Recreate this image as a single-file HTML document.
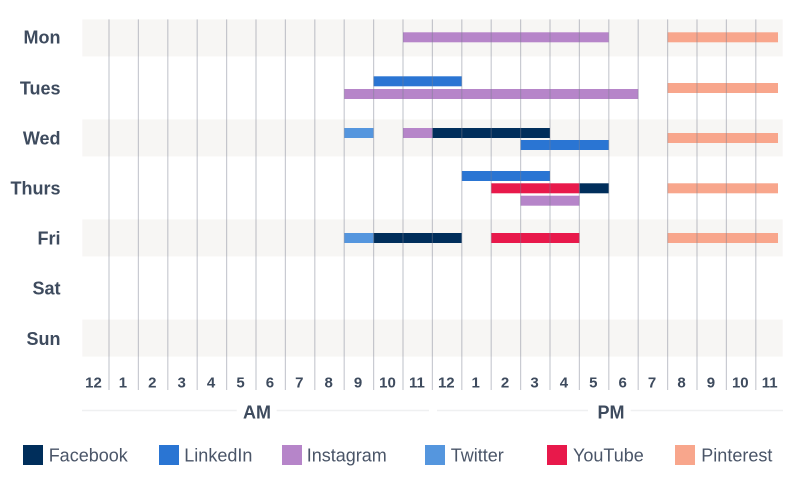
<!DOCTYPE html>
<html><head><meta charset="utf-8"><style>
html,body{margin:0;padding:0;background:#fff;}
svg{display:block;}
text{font-family:"Liberation Sans",sans-serif;}
</style></head><body>
<svg width="800" height="481" viewBox="0 0 800 481" xmlns="http://www.w3.org/2000/svg">
<!-- stripes -->
<g fill="#f7f6f4">
<rect x="82.3" y="19.4" width="700.4" height="37"/>
<rect x="82.3" y="119.4" width="700.4" height="37"/>
<rect x="82.3" y="219.4" width="700.4" height="37"/>
<rect x="82.3" y="319.6" width="700.4" height="37"/>
</g>
<!-- day labels -->
<g font-size="18" font-weight="bold" fill="#3e4b5e" text-anchor="end">
<text x="60.5" y="43.6">Mon</text>
<text x="60.5" y="94.3">Tues</text>
<text x="60.5" y="144.4">Wed</text>
<text x="60.5" y="194.6">Thurs</text>
<text x="60.5" y="244.4">Fri</text>
<text x="60.5" y="294.6">Sat</text>
<text x="60.5" y="344.8">Sun</text>
</g>
<!-- bars -->
<g>
<!-- Mon -->
<rect x="403" y="32.3" width="205.8" height="10" fill="#b685c9"/>
<rect x="667.6" y="32.3" width="110.4" height="10" fill="#f8a68c"/>
<!-- Tue -->
<rect x="373.6" y="76.3" width="88.2" height="10" fill="#2a75d3"/>
<rect x="344.2" y="89" width="294" height="10" fill="#b685c9"/>
<rect x="667.6" y="83" width="110.4" height="10" fill="#f8a68c"/>
<!-- Wed -->
<rect x="344.2" y="128" width="29.4" height="10" fill="#5596de"/>
<rect x="403" y="128" width="29.4" height="10" fill="#b685c9"/>
<rect x="432.4" y="128" width="117.6" height="10" fill="#002e5b"/>
<rect x="520.6" y="140" width="88.2" height="10" fill="#2a75d3"/>
<rect x="667.6" y="133" width="110.4" height="10" fill="#f8a68c"/>
<!-- Thu -->
<rect x="461.8" y="171" width="88.2" height="10" fill="#2a75d3"/>
<rect x="491.2" y="183.3" width="88.2" height="10" fill="#e8194b"/>
<rect x="579.4" y="183.3" width="29.4" height="10" fill="#002e5b"/>
<rect x="520.6" y="195.7" width="58.8" height="10" fill="#b685c9"/>
<rect x="667.6" y="183.3" width="110.4" height="10" fill="#f8a68c"/>
<!-- Fri -->
<rect x="344.2" y="233" width="29.4" height="10" fill="#5596de"/>
<rect x="373.6" y="233" width="88.2" height="10" fill="#002e5b"/>
<rect x="491.2" y="233" width="88.2" height="10" fill="#e8194b"/>
<rect x="667.6" y="233" width="110.4" height="10" fill="#f8a68c"/>
</g>
<!-- grid lines -->
<g stroke="rgb(120,126,142)" stroke-opacity="0.4" stroke-width="1.2">
<line x1="109.0" y1="19.4" x2="109.0" y2="390"/>
<line x1="138.4" y1="19.4" x2="138.4" y2="390"/>
<line x1="167.8" y1="19.4" x2="167.8" y2="390"/>
<line x1="197.2" y1="19.4" x2="197.2" y2="390"/>
<line x1="226.6" y1="19.4" x2="226.6" y2="390"/>
<line x1="256.0" y1="19.4" x2="256.0" y2="390"/>
<line x1="285.4" y1="19.4" x2="285.4" y2="390"/>
<line x1="314.8" y1="19.4" x2="314.8" y2="390"/>
<line x1="344.2" y1="19.4" x2="344.2" y2="390"/>
<line x1="373.6" y1="19.4" x2="373.6" y2="390"/>
<line x1="403.0" y1="19.4" x2="403.0" y2="390"/>
<line x1="432.4" y1="19.4" x2="432.4" y2="390"/>
<line x1="461.8" y1="19.4" x2="461.8" y2="390"/>
<line x1="491.2" y1="19.4" x2="491.2" y2="390"/>
<line x1="520.6" y1="19.4" x2="520.6" y2="390"/>
<line x1="550.0" y1="19.4" x2="550.0" y2="390"/>
<line x1="579.4" y1="19.4" x2="579.4" y2="390"/>
<line x1="608.8" y1="19.4" x2="608.8" y2="390"/>
<line x1="638.2" y1="19.4" x2="638.2" y2="390"/>
<line x1="667.6" y1="19.4" x2="667.6" y2="390"/>
<line x1="697.0" y1="19.4" x2="697.0" y2="390"/>
<line x1="726.4" y1="19.4" x2="726.4" y2="390"/>
<line x1="755.8" y1="19.4" x2="755.8" y2="390"/>
</g>
<!-- hour labels -->
<g font-size="15" font-weight="bold" fill="#3e4b5e" text-anchor="middle">
<text x="93.5" y="387.7">12</text>
<text x="122.9" y="387.7">1</text>
<text x="152.3" y="387.7">2</text>
<text x="181.7" y="387.7">3</text>
<text x="211.1" y="387.7">4</text>
<text x="240.5" y="387.7">5</text>
<text x="269.9" y="387.7">6</text>
<text x="299.3" y="387.7">7</text>
<text x="328.7" y="387.7">8</text>
<text x="358.1" y="387.7">9</text>
<text x="387.5" y="387.7">10</text>
<text x="416.9" y="387.7">11</text>
<text x="446.3" y="387.7">12</text>
<text x="475.7" y="387.7">1</text>
<text x="505.1" y="387.7">2</text>
<text x="534.5" y="387.7">3</text>
<text x="563.9" y="387.7">4</text>
<text x="593.3" y="387.7">5</text>
<text x="622.7" y="387.7">6</text>
<text x="652.1" y="387.7">7</text>
<text x="681.5" y="387.7">8</text>
<text x="710.9" y="387.7">9</text>
<text x="740.3" y="387.7">10</text>
<text x="769.7" y="387.7">11</text>
</g>
<!-- AM / PM separators -->
<g stroke="#eff0f1" stroke-width="1.5">
<line x1="82" y1="410.5" x2="236.7" y2="410.5"/>
<line x1="276.7" y1="410.5" x2="429" y2="410.5"/>
<line x1="437" y1="410.5" x2="588" y2="410.5"/>
<line x1="630.7" y1="410.5" x2="783" y2="410.5"/>
</g>
<g font-size="18" font-weight="bold" fill="#3e4b5e" text-anchor="middle">
<text x="257" y="418.3">AM</text>
<text x="611" y="418.3">PM</text>
</g>
<!-- legend -->
<g>
<rect x="23" y="445" width="20" height="20" fill="#002e5b"/>
<rect x="159" y="445" width="20" height="20" fill="#2a75d3"/>
<rect x="282" y="445" width="20" height="20" fill="#b685c9"/>
<rect x="425" y="445" width="20" height="20" fill="#5596de"/>
<rect x="547" y="445" width="20" height="20" fill="#e8194b"/>
<rect x="675" y="445" width="20" height="20" fill="#f8a68c"/>
</g>
<g font-size="18" fill="#4a5568">
<text x="48.7" y="461.7">Facebook</text>
<text x="184.3" y="461.7">LinkedIn</text>
<text x="306.7" y="461.7">Instagram</text>
<text x="450.7" y="461.7">Twitter</text>
<text x="573" y="461.7">YouTube</text>
<text x="701.3" y="461.7">Pinterest</text>
</g>
</svg>
</body></html>
